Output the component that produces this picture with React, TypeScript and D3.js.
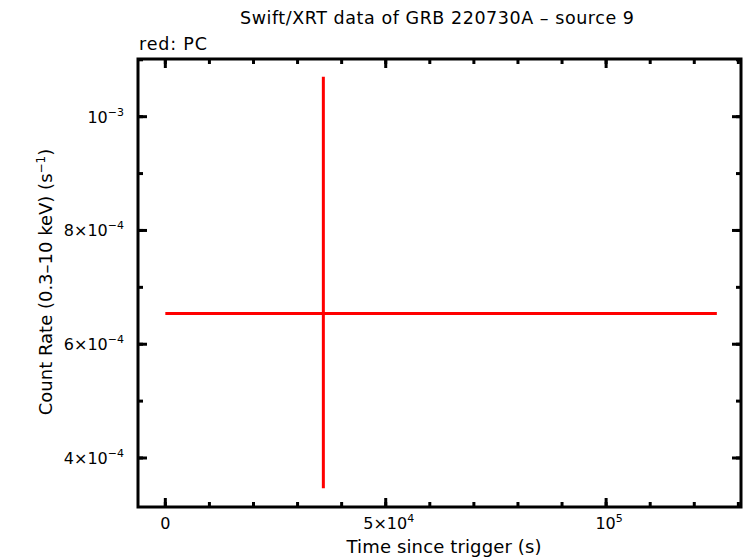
import React from "react";
import * as d3 from "d3";

const title = "Swift/XRT data of GRB 220730A \u2013 source 9";
const legendText = "red: PC";
const xLabel = "Time since trigger (s)";
const yLabelMain = "Count Rate (0.3\u201310 keV) (s";
const yLabelSup = "\u22121";
const yLabelEnd = ")";

// data (seconds since trigger, count rate)
const times = [35850];
const timeNeg = [35850];
const timePos = [89270];
const rates = [6.54e-4];
const rateNeg = [3.073e-4];
const ratePos = [4.163e-4];

const xDomain = [-6200, 130600];
const yDomain = [3.1385e-4, 1.1014e-3];

const xMajorTicks = [0, 50000, 100000];
const xMajorLabels = [
  { base: "0", exp: "" },
  { base: "5\u00d710", exp: "4" },
  { base: "10", exp: "5" },
];
const xMinorTicks = d3.range(0, 130001, 10000);

const yMajorTicks = [4e-4, 6e-4, 8e-4, 1e-3];
const yMajorLabels = [
  { base: "4\u00d710", exp: "\u22124" },
  { base: "6\u00d710", exp: "\u22124" },
  { base: "8\u00d710", exp: "\u22124" },
  { base: "10", exp: "\u22123" },
];
const yMinorTicks = [4e-4, 5e-4, 6e-4, 7e-4, 8e-4, 9e-4, 1e-3, 1.1e-3];

const W = 746;
const H = 558;
const left = 138;
const right = 741;
const top = 59;
const bottom = 507;

export default function App() {
  const x = d3.scaleLinear().domain(xDomain).range([left, right]);
  const y = d3.scaleLinear().domain(yDomain).range([bottom, top]);
  const font = "'DejaVu Sans', 'Liberation Sans', sans-serif";
  const majLen = 9;
  const minLen = 5;
  return (
    <svg
      width={W}
      height={H}
      style={{ position: "absolute", left: 0, top: 0, background: "#fff" }}
      fontFamily={font}
    >
      <rect x={0} y={0} width={W} height={H} fill="#fff" />
      <text x={437} y={24} fontSize={17.5} textAnchor="middle" textLength={394} lengthAdjust="spacing">
        {title}
      </text>
      <text x={139} y={50} fontSize={17.5} textLength={68} lengthAdjust="spacing">
        {legendText}
      </text>
      {/* data */}
      <g stroke="#ff0000" strokeWidth={3} fill="none">
        {times.map((t, i) => (
          <g key={i}>
            <line x1={x(t - timeNeg[i])} x2={x(t + timePos[i])} y1={y(rates[i])} y2={y(rates[i])} />
            <line x1={x(t)} x2={x(t)} y1={y(rates[i] - rateNeg[i])} y2={y(rates[i] + ratePos[i])} />
          </g>
        ))}
      </g>
      {/* ticks */}
      <g stroke="#000" strokeWidth={3}>
        {xMinorTicks.map((t) => (
          <g key={"xm" + t}>
            <line x1={x(t)} x2={x(t)} y1={bottom} y2={bottom - minLen} />
            <line x1={x(t)} x2={x(t)} y1={top} y2={top + minLen} />
          </g>
        ))}
        {xMajorTicks.map((t) => (
          <g key={"xM" + t}>
            <line x1={x(t)} x2={x(t)} y1={bottom} y2={bottom - majLen} />
            <line x1={x(t)} x2={x(t)} y1={top} y2={top + majLen} />
          </g>
        ))}
        {yMinorTicks.map((t) => (
          <g key={"ym" + t}>
            <line x1={left} x2={left + minLen} y1={y(t)} y2={y(t)} />
            <line x1={right} x2={right - minLen} y1={y(t)} y2={y(t)} />
          </g>
        ))}
        {yMajorTicks.map((t) => (
          <g key={"yM" + t}>
            <line x1={left} x2={left + majLen} y1={y(t)} y2={y(t)} />
            <line x1={right} x2={right - majLen} y1={y(t)} y2={y(t)} />
          </g>
        ))}
      </g>
      <rect x={left} y={top} width={right - left} height={bottom - top} fill="none" stroke="#000" strokeWidth={3} />
      {/* tick labels */}
      <g fontSize={16}>
        {xMajorTicks.map((t, i) => (
          <text key={"xl" + t} x={x(t) + (xMajorLabels[i].exp ? 3 : 0)} y={529} textAnchor="middle">
            {xMajorLabels[i].base}
            {xMajorLabels[i].exp && (
              <tspan fontSize={11} dy={-7}>
                {xMajorLabels[i].exp}
              </tspan>
            )}
          </text>
        ))}
        {yMajorTicks.map((t, i) => (
          <text key={"yl" + t} x={124} y={y(t) + 6} textAnchor="end">
            {yMajorLabels[i].base}
            <tspan fontSize={11} dy={-7}>
              {yMajorLabels[i].exp}
            </tspan>
          </text>
        ))}
      </g>
      <text x={444} y={553} fontSize={18} textAnchor="middle" textLength={195} lengthAdjust="spacing">
        {xLabel}
      </text>
      <text transform="translate(52,282) rotate(-90)" fontSize={18} textAnchor="middle">
        {yLabelMain}
        <tspan fontSize={12} dy={-7}>
          {yLabelSup}
        </tspan>
        <tspan dy={7}>{yLabelEnd}</tspan>
      </text>
    </svg>
  );
}
